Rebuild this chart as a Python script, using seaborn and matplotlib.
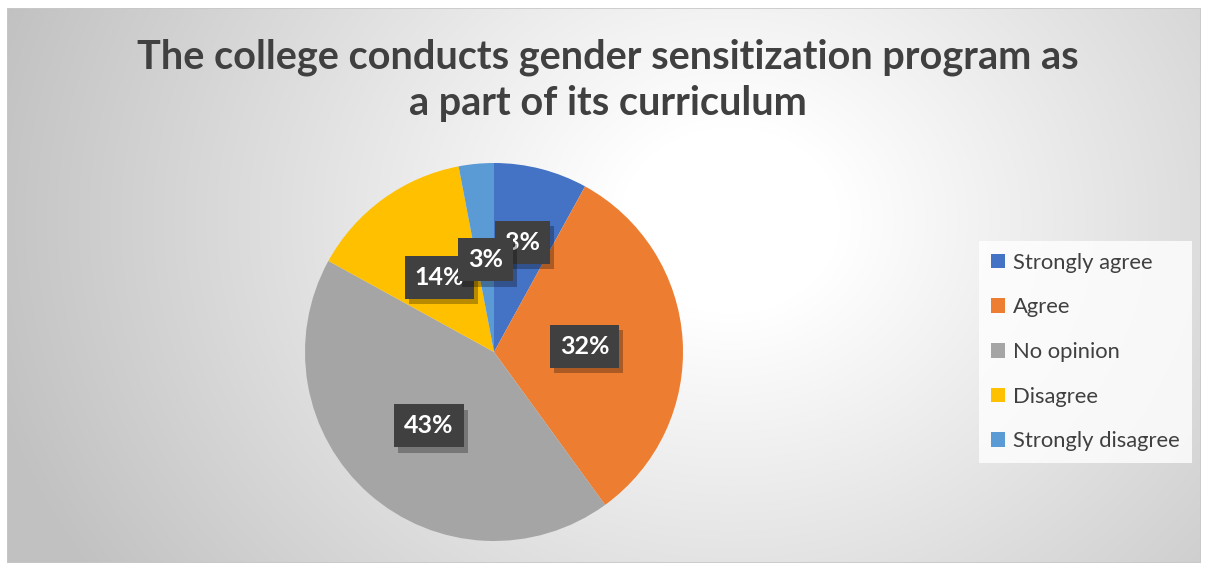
import numpy as np
import matplotlib
matplotlib.use("Agg")
import matplotlib.pyplot as plt
import matplotlib.patheffects as pe
import seaborn as sns
from matplotlib.patches import Rectangle

# ---- data ----
categories = ["Strongly agree", "Agree", "No opinion", "Disagree", "Strongly disagree"]
values = [8, 32, 43, 14, 3]
pct_labels = ["8%", "32%", "43%", "14%", "3%"]
title_lines = ["The college conducts gender sensitization program as",
               "a part of its curriculum"]

colors = sns.color_palette(["#4472C4", "#ED7D31", "#A5A5A5", "#FFC000", "#5B9BD5"])

sns.set_theme(style="white")
plt.rcParams["font.family"] = ["Lato", "DejaVu Sans"]

W, H = 1205, 566
fig = plt.figure(figsize=(W / 100, H / 100), dpi=100)
fig.patch.set_facecolor("white")

# ---- background (radial gradient chart area) ----
x0, y0, x1, y1 = 7, 8, 1201, 563
bg = fig.add_axes([x0 / W, 1 - y1 / H, (x1 - x0) / W, (y1 - y0) / H])
bg.set_axis_off()
gx = np.arange(x0, x1)
gy = np.arange(y0, y1)
XX, YY = np.meshgrid(gx, gy)
cx, cy = 730, 220
d = np.sqrt((XX - cx) ** 2 + ((YY - cy) / 0.85) ** 2)
inner, outer = 110, 760
t = np.clip((d - inner) / (outer - inner), 0, 1)
val = 1.0 - t * (1 - 0.76)
img = np.dstack([val, val, val])
bg.imshow(img, aspect="auto", extent=[0, 1, 0, 1], origin="upper")
bg.set_xlim(0, 1)
bg.set_ylim(0, 1)
bg.add_patch(Rectangle((0, 0), 1, 1, transform=bg.transAxes, fill=False,
                       edgecolor="#c8c8c8", linewidth=1.2))

# ---- title ----
fig.text(608 / W, 1 - 57 / H, title_lines[0], ha="center", va="center",
         fontsize=28.5, fontweight="bold", color="#404040")
fig.text(608 / W, 1 - 104 / H, title_lines[1], ha="center", va="center",
         fontsize=28.5, fontweight="bold", color="#404040")

# ---- pie ----
pcx, pcy, r = 494, 352, 189
ax = fig.add_axes([(pcx - r) / W, 1 - (pcy + r) / H, 2 * r / W, 2 * r / H])
ax.set_axis_off()
wedges, _ = ax.pie(values, colors=colors, startangle=90, counterclock=False,
                   radius=1.0, wedgeprops=dict(linewidth=0))
ax.set_xlim(-1, 1)
ax.set_ylim(-1, 1)
ax.set_aspect("equal")

label_dist = [0.60, 0.48, 0.52, 0.49, 0.49]
for w, lab, dist in zip(wedges, pct_labels, label_dist):
    ang = np.deg2rad((w.theta1 + w.theta2) / 2)
    lx, ly = dist * np.cos(ang), dist * np.sin(ang)
    txt = ax.text(lx, ly, lab, ha="center", va="center", fontsize=18,
                  fontweight="bold", color="white",
                  bbox=dict(boxstyle="square,pad=0.4", facecolor="#404040",
                            edgecolor="none"),
                  zorder=5)
    txt.get_bbox_patch().set_path_effects(
        [pe.SimplePatchShadow(offset=(3, -4), shadow_rgbFace="black", alpha=0.28),
         pe.Normal()])

# ---- legend ----
leg = fig.legend(wedges, categories, loc="center left",
                 bbox_to_anchor=(979 / W, 1 - 352 / H),
                 frameon=True, fontsize=15.8, labelcolor="#404040",
                 handlelength=0.65, handleheight=0.65, handletextpad=0.35,
                 labelspacing=1.12, borderpad=0.55, borderaxespad=0,
                 fancybox=False)
leg.get_frame().set_facecolor((1, 1, 1, 0.25))
leg.get_frame().set_edgecolor("none")

fig.savefig("out.png", dpi=100, facecolor=fig.get_facecolor())
